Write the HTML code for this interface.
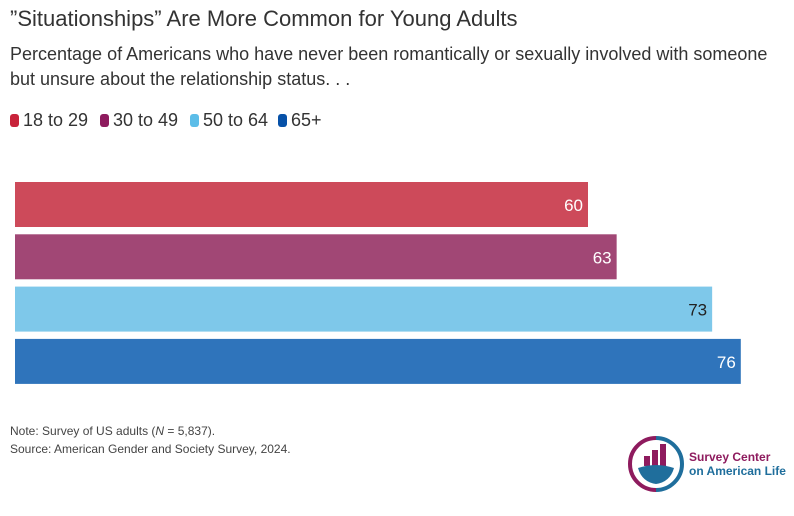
<!DOCTYPE html>
<html><head><meta charset="utf-8"><style>
body{margin:0;width:794px;height:516px;background:#fff;font-family:"Liberation Sans",sans-serif;color:#333;position:relative;overflow:hidden}
.t{position:absolute;left:10px;top:6px;font-size:22px;color:#333}
.s{position:absolute;left:10px;top:42px;font-size:18px;line-height:25px;color:#333;width:780px}
.lg{position:absolute;top:110px;font-size:18px;color:#333}
.sq{display:inline-block;width:9px;height:13px;border-radius:3px;vertical-align:-1px;margin-right:4px}
.n{position:absolute;left:10px;font-size:12px;color:#444}
</style></head><body>
<div class="t">”Situationships” Are More Common for Young Adults</div>
<div class="s">Percentage of Americans who have never been romantically or sexually involved with someone but unsure about the relationship status. . .</div>
<div class="lg" style="left:10px"><span class="sq" style="background:#c8233a"></span>18 to 29</div>
<div class="lg" style="left:100px"><span class="sq" style="background:#8e1b5e"></span>30 to 49</div>
<div class="lg" style="left:190px"><span class="sq" style="background:#5cbde8"></span>50 to 64</div>
<div class="lg" style="left:278px"><span class="sq" style="background:#0751a8"></span>65+</div>
<svg id="c" width="794" height="516" style="position:absolute;left:0;top:0"></svg>
<div class="n" style="top:424px">Note: Survey of US adults (<i>N</i> = 5,837).</div>
<div class="n" style="top:442px">Source: American Gender and Society Survey, 2024.</div>
<svg width="60" height="60" viewBox="0 0 60 60" style="position:absolute;left:626px;top:434px">
<path d="M30 4 A26 26 0 0 0 30 56" fill="none" stroke="#8e1b5e" stroke-width="4"/>
<path d="M30 4 A26 26 0 0 1 30 56" fill="none" stroke="#1f6e9c" stroke-width="4"/>
<rect x="18" y="22" width="6" height="10" fill="#8e1b5e"/><rect x="26" y="16" width="6" height="16" fill="#8e1b5e"/><rect x="34" y="10" width="6" height="22" fill="#8e1b5e"/>
<path d="M12 34 Q30 28 48 34 Q44 48 30 50 Q16 48 12 34Z" fill="#1f6e9c"/>
</svg>
<div style="position:absolute;left:689px;top:450px;font-size:12px;font-weight:bold;line-height:14px"><span style="color:#8e1b5e">Survey Center</span><br><span style="color:#1f6e9c">on American Life</span></div>
<script>
const categories=["18 to 29","30 to 49","50 to 64","65+"];
const values=[60,63,73,76];
const colors=["#cd4a5a","#a14775","#7ec8ea","#2f74bb"];
const labelColors=["#fff","#fff","#222","#fff"];
const svg=document.getElementById('c');const NS="http://www.w3.org/2000/svg";
const x=v=>15+v*9.55;const y=i=>182+i*52.3;
values.forEach((v,i)=>{
const r=document.createElementNS(NS,'rect');


r.setAttribute('x',15);r.setAttribute('y',y(i));r.setAttribute('width',x(v)-15);r.setAttribute('height',45);r.setAttribute('fill',colors[i]);svg.appendChild(r);
const t=document.createElementNS(NS,'text');


t.setAttribute('x',x(v)-5);t.setAttribute('y',y(i)+29);t.setAttribute('text-anchor','end');t.setAttribute('font-size','17');t.setAttribute('fill',labelColors[i]);t.setAttribute('font-family','Liberation Sans, sans-serif');t.textContent=v;svg.appendChild(t);
});
</script>
</body></html>
